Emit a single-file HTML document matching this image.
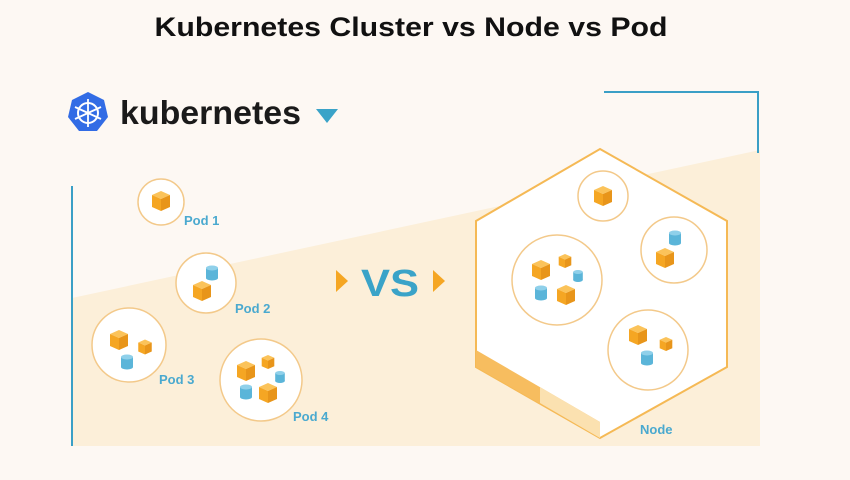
<!DOCTYPE html>
<html><head><meta charset="utf-8"><style>
html,body{margin:0;padding:0;background:#fdf8f3;}
svg{display:block;}
</style></head><body>
<svg width="850" height="480" viewBox="0 0 850 480" xmlns="http://www.w3.org/2000/svg">
<defs>
<g id="cube">
<polygon points="0,-10 9,-6 0,-2 -9,-6" fill="#fbc35a"/>
<polygon points="-9,-6 0,-2 0,10 -9,6" fill="#f5a623"/>
<polygon points="9,-6 0,-2 0,10 9,6" fill="#e8951a"/>
</g>
<g id="cyl">
<rect x="-6" y="-5" width="12" height="10" fill="#5bb5d9"/>
<ellipse cx="0" cy="5" rx="6" ry="2.5" fill="#5bb5d9"/>
<ellipse cx="0" cy="-5" rx="6" ry="2.5" fill="#8fd0ea"/>
</g>
</defs>
<rect width="850" height="480" fill="#fdf8f3"/>
<text x="411" y="36" text-anchor="middle" font-family="Liberation Sans, sans-serif" font-weight="bold" font-size="27" textLength="513" lengthAdjust="spacingAndGlyphs" fill="#111">Kubernetes Cluster vs Node vs Pod</text>

<!-- beige panel -->
<polygon points="72,298 760,150 760,446 72,446" fill="#fcefd9"/>
<line x1="72" y1="186" x2="72" y2="446" stroke="#3a9fc6" stroke-width="2"/>
<polyline points="604,92 758,92 758,153" fill="none" stroke="#3a9fc6" stroke-width="2"/>

<!-- logo -->
<polygon points="88,92 104,100 108,117 97,131 79,131 68,117 72,100" fill="#326ce5"/>
<circle cx="88" cy="113" r="10" fill="none" stroke="#fff" stroke-width="2"/>
<g stroke="#fff" stroke-width="1.8"><line x1="88" y1="99" x2="88" y2="127"/><line x1="75" y1="107" x2="101" y2="119"/><line x1="101" y1="107" x2="75" y2="119"/></g>
<text x="120" y="124" font-family="Liberation Sans, sans-serif" font-weight="bold" font-size="33" fill="#1a1a1a" textLength="181" lengthAdjust="spacingAndGlyphs">kubernetes</text>
<polygon points="316,109 338,109 327,123" fill="#3aa3c8"/>

<!-- pods -->
<g fill="#fff" stroke="#f3c98a" stroke-width="1.5">
<circle cx="161" cy="202" r="23"/>
<circle cx="206" cy="283" r="30"/>
<circle cx="129" cy="345" r="37"/>
<circle cx="261" cy="380" r="41"/>
</g>
<use href="#cube" x="161" y="201"/>
<use href="#cyl" x="212" y="273" transform="translate(0,0)"/>
<use href="#cube" x="202" y="291"/>
<use href="#cube" x="119" y="340"/>
<use href="#cube" x="145" y="347" transform="translate(145,347) scale(0.75) translate(-145,-347)"/>
<use href="#cyl" x="127" y="362"/>
<use href="#cube" x="246" y="371"/>
<use href="#cube" x="268" y="362" transform="translate(268,362) scale(0.7) translate(-268,-362)"/>
<use href="#cyl" x="280" y="377" transform="translate(280,377) scale(0.8) translate(-280,-377)"/>
<use href="#cyl" x="246" y="392"/>
<use href="#cube" x="268" y="393"/>
<g font-family="Liberation Sans, sans-serif" font-weight="bold" font-size="13" fill="#4aa9cf">
<text x="184" y="225">Pod 1</text>
<text x="235" y="313">Pod 2</text>
<text x="159" y="384">Pod 3</text>
<text x="293" y="421">Pod 4</text>
<text x="640" y="434">Node</text>
</g>

<!-- VS -->
<polygon points="336,270 348,281 336,292" fill="#f5a623"/>
<text x="361" y="296" font-family="Liberation Sans, sans-serif" font-weight="bold" font-size="38" fill="#3aa3c8" textLength="58" lengthAdjust="spacingAndGlyphs">VS</text>
<polygon points="433,270 445,281 433,292" fill="#f5a623"/>

<!-- node hexagon -->
<polygon points="600,149 727,221 727,367 600,438 476,367 476,221" fill="#fff" stroke="#f5b955" stroke-width="2"/>
<polygon points="476,350 600,422 600,438 476,367" fill="#f7bd5f"/>
<polygon points="540,387 600,422 600,438 540,403" fill="#fbe1b0"/>
<g fill="#fff" stroke="#f3c98a" stroke-width="1.5">
<circle cx="603" cy="196" r="25"/>
<circle cx="674" cy="250" r="33"/>
<circle cx="557" cy="280" r="45"/>
<circle cx="648" cy="350" r="40"/>
</g>
<use href="#cube" x="603" y="196"/>
<use href="#cyl" x="675" y="238"/>
<use href="#cube" x="665" y="258"/>
<use href="#cube" x="541" y="270"/>
<use href="#cube" x="565" y="261" transform="translate(565,261) scale(0.7) translate(-565,-261)"/>
<use href="#cyl" x="578" y="276" transform="translate(578,276) scale(0.8) translate(-578,-276)"/>
<use href="#cyl" x="541" y="293"/>
<use href="#cube" x="566" y="295"/>
<use href="#cube" x="638" y="335"/>
<use href="#cube" x="666" y="344" transform="translate(666,344) scale(0.7) translate(-666,-344)"/>
<use href="#cyl" x="647" y="358"/>
</svg>
</body></html>
